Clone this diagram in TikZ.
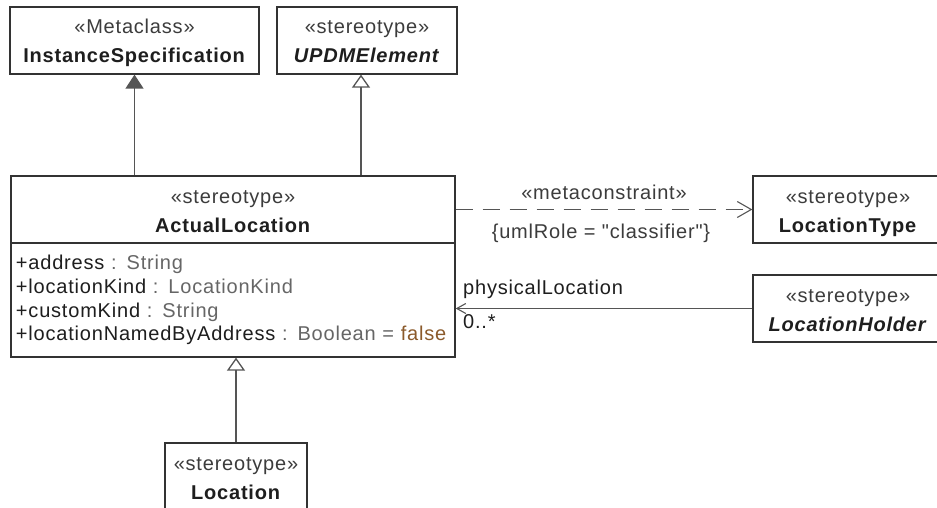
\documentclass[tikz,border=0pt]{standalone}
\usepackage{fontspec}
\setmainfont{Liberation Sans}[LetterSpace=4, Ligatures=TeXOff]
\usetikzlibrary{arrows.meta}
\definecolor{umlline}{HTML}{333333}
\definecolor{umlconn}{HTML}{555555}
\definecolor{umlname}{HTML}{1E1E1E}
\definecolor{umlster}{HTML}{3C3C3C}
\definecolor{umltype}{HTML}{666666}
\definecolor{umlval}{HTML}{8B5A2B}
\newcommand{\stereo}[1]{{\color{umlster}«#1»}}

\begin{document}
\begin{tikzpicture}[x=1pt, y=-1pt,
  umlbox/.style={draw=umlline, line width=1.3pt, fill=white, align=center, minimum height=67pt, inner sep=0pt, text height=45pt, text depth=0pt, text=umlname, font=\fontsize{20}{29}\selectfont},
  attrbox/.style={draw=umlline, line width=1.3pt, fill=white, align=left, text width=434pt, minimum height=114pt, inner xsep=5pt, inner ysep=0pt, text=umlname, font=\fontsize{20}{23.7}\selectfont},
  umllabel/.style={inner sep=2pt, text=umlname, font=\fontsize{20}{24}\selectfont},
  generalization/.style={draw=umlconn, line width=1.3pt, -{Triangle[open, length=13pt, width=18pt]}},
  extension/.style={draw=umlconn, line width=1.3pt, -{Triangle[length=14pt, width=18pt, fill=umlconn]}},
  dependency/.style={draw=umlconn, line width=1.1pt, dash pattern=on 17pt off 10pt, -{Straight Barb[length=14pt, width=16pt]}},
  association/.style={draw=umlconn, line width=1.1pt, -{Straight Barb[length=9pt, width=10pt]}}]

\useasboundingbox[fill=white] (0,0) rectangle (937,508);

\node[umlbox, minimum width=249pt] (is) at (134.5,40.5) {\stereo{Metaclass}\\\textbf{InstanceSpecification}};
\node[umlbox, minimum width=180pt, right of=is, node distance=232.5pt] (upe) {\stereo{stereotype}\\\textbf{\itshape UPDMElement}};

\node[umlbox, minimum width=444pt] (al) at (233,209.5) {\stereo{stereotype}\\\textbf{ActualLocation}};
\node[attrbox, below of=al, node distance=90.5pt] (al_attr) {+address \textcolor{umltype}{: String}\\
+locationKind \textcolor{umltype}{: LocationKind}\\
+customKind \textcolor{umltype}{: String}\\
+locationNamedByAddress \textcolor{umltype}{: Boolean =} \textcolor{umlval}{false}};

\node[umlbox, minimum width=190pt, right of=al, node distance=615pt] (lt) {\stereo{stereotype}\\\textbf{LocationType}};
\node[umlbox, minimum width=190pt, below of=lt, node distance=99pt] (lh) {\stereo{stereotype}\\\textbf{\itshape LocationHolder}};

\node[umlbox, minimum width=142pt] (loc) at (236,476.5) {\stereo{stereotype}\\\textbf{Location}};

\draw[extension] (al.north -| is.south) -- (is.south);
\draw[generalization] ([xshift=-6pt]upe.south |- al.north) -- ([xshift=-6pt]upe.south);
\draw[generalization] (loc.north) -- (loc.north |- al_attr.south);

\draw[dependency] (al.east) -- node[umllabel, above=7pt] {\stereo{metaconstraint}} node[umllabel, below=12pt, xshift=-3pt, text=umlster] {\{umlRole = "classifier"\}} (lt.west);
\draw[association] (lh.west) -- (lh.west -| al_attr.east) node[umllabel, anchor=south west, xshift=5pt, yshift=7pt] {physicalLocation} node[umllabel, anchor=north west, xshift=5pt, yshift=-3pt] {0..*};

\end{tikzpicture}
\end{document}
